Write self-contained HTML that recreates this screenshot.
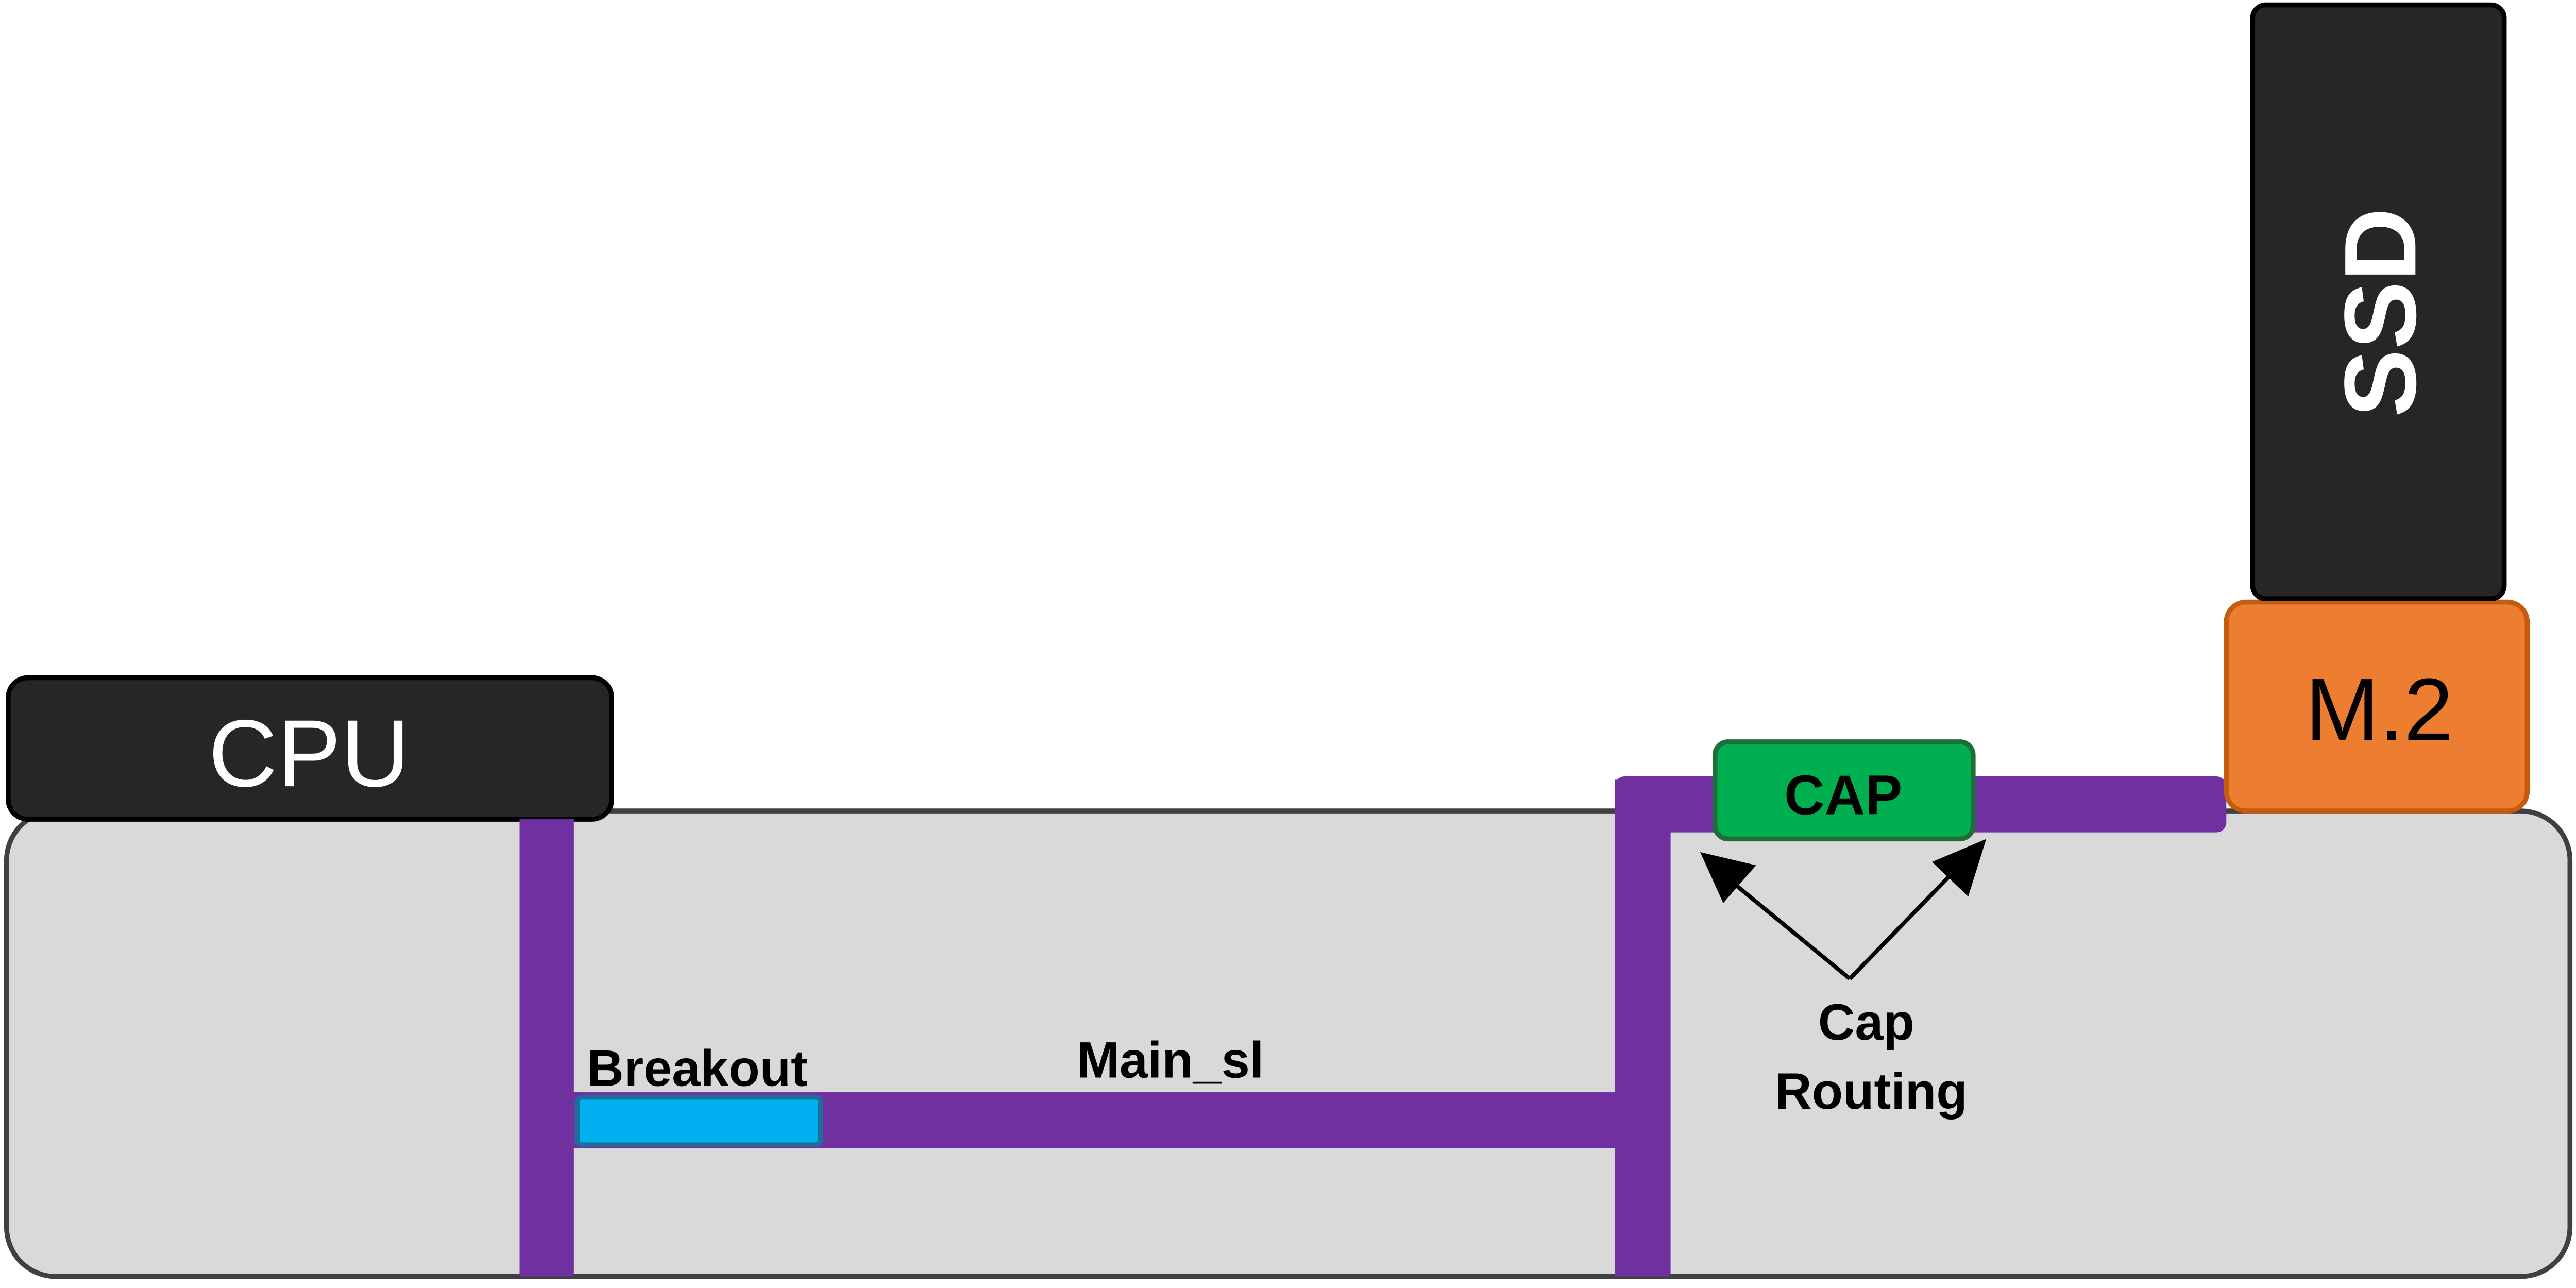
<!DOCTYPE html>
<html><head><meta charset="utf-8"><style>
html,body{margin:0;padding:0;background:#fff;}
svg{display:block;}
text{font-family:"Liberation Sans",sans-serif;}
</style></head><body>
<svg width="5033" height="2500" viewBox="0 0 1577 783" preserveAspectRatio="none" xmlns="http://www.w3.org/2000/svg">
<rect x="4" y="493" width="1559" height="283" rx="30" ry="30" fill="#d9d9d9" stroke="#404040" stroke-width="3"/>
<rect x="5" y="412" width="367" height="86" rx="12" ry="12" fill="#262626" stroke="#000" stroke-width="3"/>
<text x="188" y="478" font-size="58" fill="#fff" text-anchor="middle">CPU</text>
<rect x="316" y="498" width="33" height="278" fill="#7030a0"/>
<rect x="340" y="664" width="660" height="34" fill="#7030a0"/>
<rect x="982" y="474" width="34" height="302" fill="#7030a0"/>
<rect x="982" y="472" width="372" height="34" rx="6" fill="#7030a0"/>
<rect x="1043" y="451" width="157" height="59" rx="8" fill="#00b050" stroke="#1e6e38" stroke-width="3"/>
<text x="1121" y="495" font-size="34" font-weight="bold" fill="#000" text-anchor="middle">CAP</text>
<rect x="351" y="667" width="148" height="29" rx="3" fill="#00b0f0" stroke="#1f6e9a" stroke-width="3"/>
<text x="357" y="660" font-size="31" font-weight="bold" fill="#000">Breakout</text>
<text x="655" y="655" font-size="31" font-weight="bold" fill="#000">Main_sl</text>
<line x1="1125" y1="595" x2="1052" y2="535" stroke="#000" stroke-width="2.5"/>
<polygon points="1034,518 1068,526 1048,549" fill="#000"/>
<line x1="1125" y1="595" x2="1193" y2="525" stroke="#000" stroke-width="2.5"/>
<polygon points="1208,510 1197,545 1175,524" fill="#000"/>
<text x="1135" y="632" font-size="31" font-weight="bold" fill="#000" text-anchor="middle">Cap</text>
<text x="1138" y="674" font-size="31" font-weight="bold" fill="#000" text-anchor="middle">Routing</text>
<rect x="1354" y="366" width="183" height="127" rx="12" fill="#ed7d31" stroke="#c55a11" stroke-width="3"/>
<text x="1447" y="450" font-size="54" fill="#000" text-anchor="middle">M.2</text>
<rect x="1370" y="3" width="153" height="361" rx="8" fill="#262626" stroke="#000" stroke-width="3"/>
<text x="0" y="0" font-size="62" font-weight="bold" fill="#fff" text-anchor="middle" transform="translate(1469,190) rotate(-90)">SSD</text>
</svg>
</body></html>
